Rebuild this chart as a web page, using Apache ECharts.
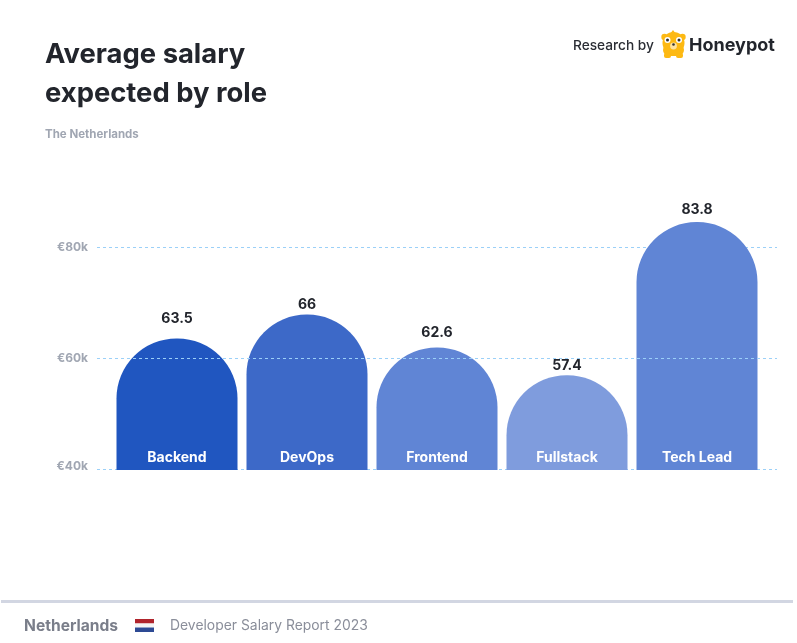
<!DOCTYPE html>
<html><head><meta charset="utf-8">
<style>html,body{margin:0;padding:0;background:#fff}#c{width:797px;height:643px}</style>
<script src="https://cdn.jsdelivr.net/npm/echarts@6/dist/echarts.min.js"></script>
</head><body><div id="c"></div>
<script>
const categories = ['Backend','DevOps','Frontend','Fullstack','Tech Lead'];
const printedValues = [63.5,66,62.6,57.4,83.8];
const barHeights = [63.6,67.9,62,57,84.5];
const barColors = ['#2056c0','#3d69c8','#6085d5','#7f9cdd','#6085d5'];
const labelGaps = [13,3,8,2,5];
const yTicks = [40,60,80];
const F = 'Inter, "Open Sans", sans-serif';
const chart = echarts.init(document.getElementById('c'), null, {renderer:'canvas'});
const T = (x,y,text,size,weight,fill,align) => ({type:'text',x,y,silent:true,style:{text,fontSize:size,fontWeight:weight,fontFamily:F,fill,textAlign:align||'left',textVerticalAlign:'middle'}});
const R = (x,y,w,h,fill,r) => ({type:'rect',shape:{x,y,width:w,height:h,r:r||0},style:{fill},silent:true});
const C = (cx,cy,r,fill) => ({type:'circle',shape:{cx,cy,r},style:{fill},silent:true});
chart.setOption({
  animation:false,
  backgroundColor:'#fff',
  grid:[
    {left:97,width:680,top:247,height:222.5},
    {left:112,width:650,top:135.75,height:334.25}
  ],
  xAxis:[
    {gridIndex:0,type:'category',data:[''],show:false},
    {gridIndex:1,type:'category',data:categories,z:5,
     axisLine:{show:false},axisTick:{show:false},
     axisLabel:{inside:true,margin:5,color:'#fff',fontFamily:F,fontWeight:700,fontSize:14}}
  ],
  yAxis:[
    {gridIndex:0,type:'value',min:40,max:80,interval:20,z:1,
     axisLine:{show:false},axisTick:{show:false},
     axisLabel:{margin:9,color:'#a0a6b2',fontFamily:F,fontWeight:700,fontSize:12,
       formatter:v=>v===yTicks[0]?'{m|€'+v+'k}':'€'+v+'k',
       rich:{m:{padding:[0,0,6,0],color:'#a0a6b2',fontFamily:F,fontWeight:700,fontSize:12}}},
     splitLine:{show:true,lineStyle:{color:'#9bd0f8',type:[3,3],width:1}}},
    {gridIndex:1,type:'value',min:40,max:100,interval:20,show:false,splitLine:{show:false}}
  ],
  series:[{
    type:'bar',xAxisIndex:1,yAxisIndex:1,barWidth:121,z:2,
    data:barHeights.map((v,i)=>({value:v,itemStyle:{color:barColors[i],borderRadius:[60,60,0,0]},
      label:{formatter:String(printedValues[i]),distance:labelGaps[i]}})),
    label:{show:true,position:'top',color:'#22252c',fontFamily:F,fontWeight:700,fontSize:14}
  },{
    type:'line',xAxisIndex:0,yAxisIndex:0,data:[null],z:3,silent:true,
    markLine:{silent:true,symbol:'none',label:{show:false},z:3,animation:false,
      lineStyle:{color:'#9bd0f8',type:[3,3],width:1},data:[{yAxis:yTicks[1]}]}
  }],
  graphic:{elements:[
    T(45,55,'Average salary',27.4,700,'#22252c'),
    T(45,94,'expected by role',27.4,700,'#22252c'),
    T(45,135,'The Netherlands',11.5,700,'#a0a6b2'),
    T(573,46,'Research by',13.7,500,'#2a2d34'),
    T(689,46,'Honeypot',18,700,'#22252c'),
    {type:'polygon',shape:{points:[[670,34],[673,30],[676,34]]},style:{fill:'#fdb913'},silent:true},
    C(664.5,37,3.2,'#fdb913'),C(682.5,37,3.2,'#fdb913'),
    C(673.5,43,11,'#fdb913'),
    R(663,44,21,12,'#fdb913',7),
    R(664,53,7,5,'#fdb913',2),R(676,53,7,5,'#fdb913',2),
    C(667.5,40,3,'#fff'),C(679,40,3,'#fff'),C(667.5,40,1.5,'#333'),C(679,40,1.5,'#333'),
    C(673.5,46,3.4,'#ffe3a0'),C(673.5,44.5,1.3,'#333'),
    R(1,600,792,3,'#d2d6e2'),
    T(24,626,'Netherlands',15.6,700,'#7a7e8a'),
    R(135,619,19,4.5,'#b0242c'),R(135,623.5,19,4,'#f4f4f4'),R(135,627.5,19,4.5,'#2d4a94'),
    T(170,626,'Developer Salary Report 2023',13.9,400,'#8a8e9a')
  ]}
});
</script></body></html>
